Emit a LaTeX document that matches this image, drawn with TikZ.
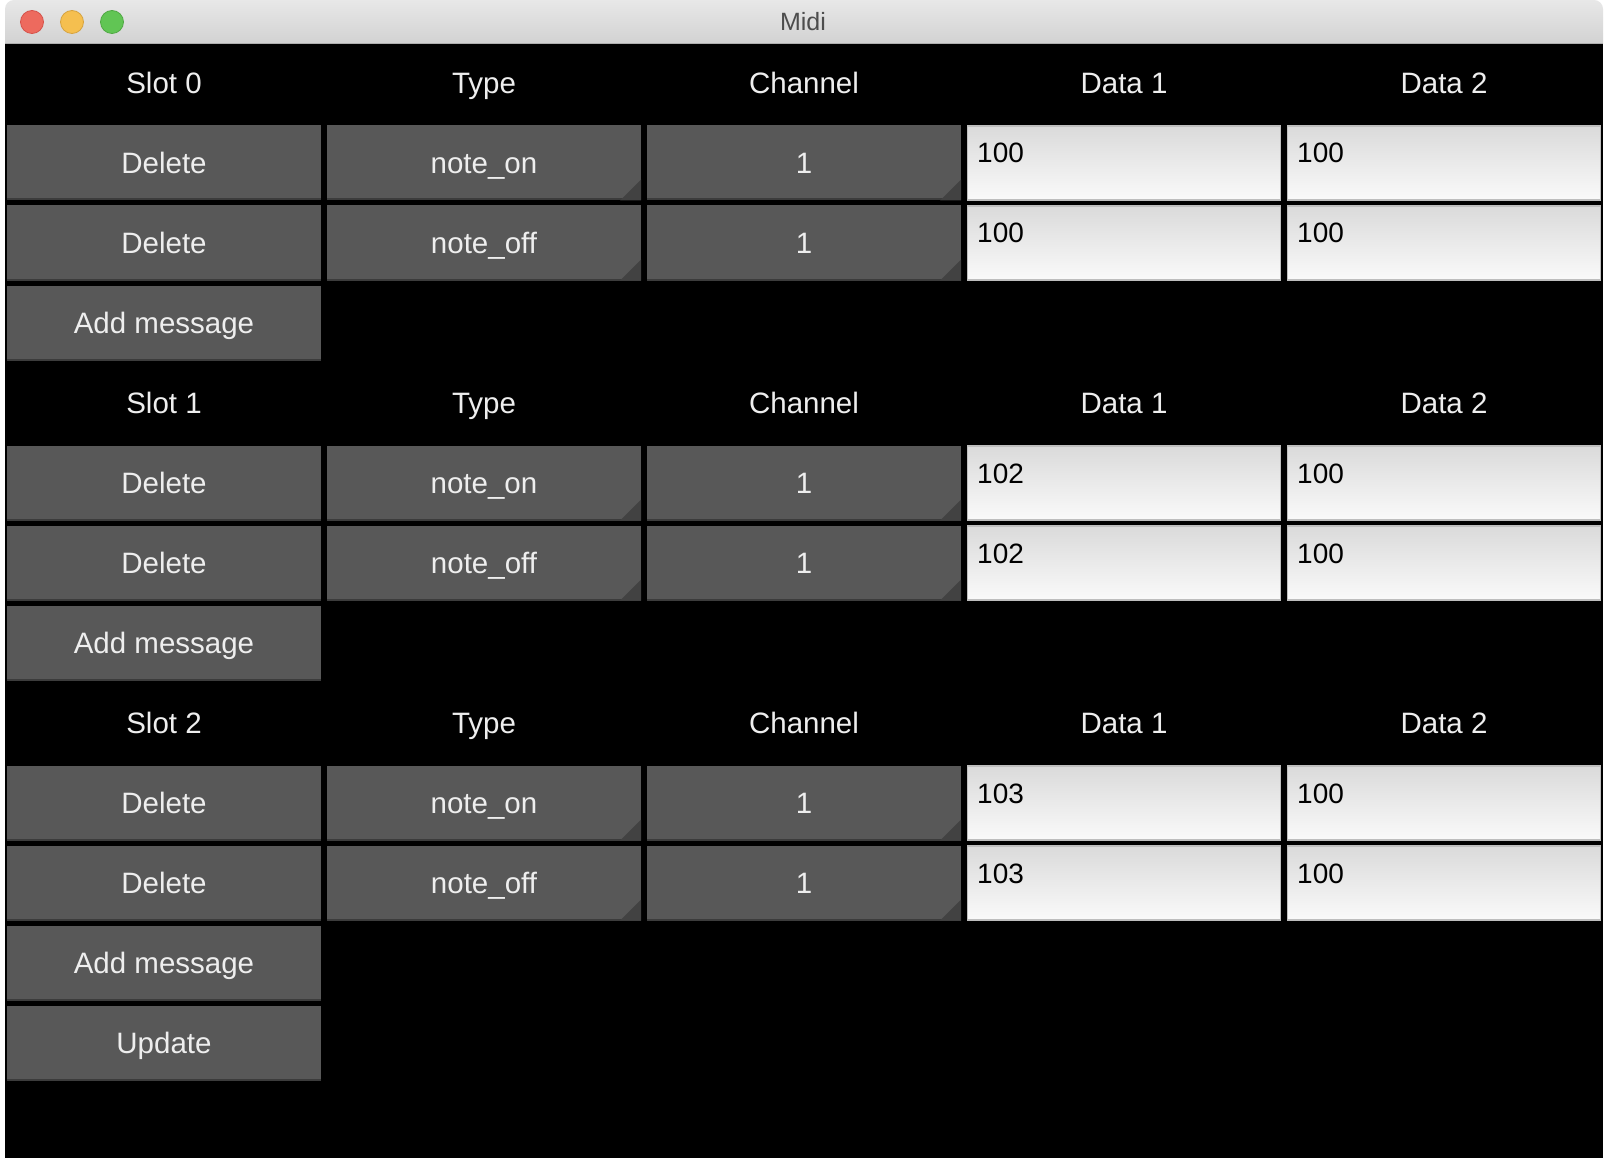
\documentclass[tikz,border=0pt]{standalone}
\usepackage{fontspec}
\setmainfont{Liberation Sans}
\definecolor{btngray}{RGB}{88,88,88}
\definecolor{btnedge}{RGB}{60,60,60}
\definecolor{trigray}{RGB}{66,66,66}
\definecolor{btntext}{RGB}{238,238,238}
\definecolor{inTop}{RGB}{218,218,218}
\definecolor{inBot}{RGB}{250,250,250}
\definecolor{inBorder}{RGB}{190,190,190}
\definecolor{tbTop}{RGB}{232,232,232}
\definecolor{tbBot}{RGB}{210,210,210}
\definecolor{tbLine}{RGB}{176,176,176}
\definecolor{titletext}{RGB}{77,77,77}
\definecolor{lred}{RGB}{237,106,94}
\definecolor{lredE}{RGB}{213,82,74}
\definecolor{lyel}{RGB}{245,191,79}
\definecolor{lyelE}{RGB}{214,163,64}
\definecolor{lgrn}{RGB}{97,197,84}
\definecolor{lgrnE}{RGB}{80,168,68}
\tikzset{
  x=1pt, y=-1pt,
  uifont/.style={font=\fontsize{29.5pt}{30pt}\selectfont, text height=21pt, text depth=0pt},
  hdr/.style={uifont, text=btntext, inner sep=0pt},
  btn/.style={uifont, fill=btngray, text=btntext, minimum width=314pt, minimum height=75pt, inner sep=0pt,
    path picture={\fill[btnedge] (path picture bounding box.south west) rectangle ([yshift=2pt]path picture bounding box.south east);}},
  spin/.style={btn, path picture={
    \fill[btnedge] (path picture bounding box.south west) rectangle ([yshift=2pt]path picture bounding box.south east);
    \fill[trigray] (path picture bounding box.south east) -- ++(-21pt,0pt) -- ++(21pt,21pt) -- cycle;}},
  inp/.style={top color=inTop, bottom color=inBot, draw=inBorder, line width=1.2pt, minimum width=313pt, minimum height=74pt, inner sep=0pt},
  inptext/.style={font=\fontsize{28pt}{29pt}\selectfont, text=black, anchor=base west, inner sep=0pt},
  light/.style={circle, minimum size=23pt, inner sep=0pt, line width=0.8pt},
}
\begin{document}
\begin{tikzpicture}
\useasboundingbox (0,0) rectangle (1608,1158);
\fill[white] (0,0) rectangle (1608,1158);
\fill[black] (5,44) rectangle (1603,1158);
% title bar
\shade[top color=tbTop, bottom color=tbBot] (5,44) [rounded corners=9pt] -- (5,0) -- (1603,0) [sharp corners] -- (1603,44) -- cycle;
\draw[tbLine, line width=1.5pt] (5,43.5) -- (1603,43.5);
\node[light, fill=lred, draw=lredE] (close) at (32,22) {};
\node[light, fill=lyel, draw=lyelE] (mini) at (72,22) {};
\node[light, fill=lgrn, draw=lgrnE] (zoom) at (112,22) {};
\node[font=\fontsize{25pt}{26pt}\selectfont, text=titletext, inner sep=0pt, text height=18pt, text depth=0pt] (title) at (803,22) {Midi};
% sections
\foreach \s/\a in {0/100,1/102,2/103} {
  \pgfmathsetmacro\hy{83+320*\s}
  \node[hdr] (slot\s) at (164,\hy) {Slot \s};
  \node[hdr] (typeh\s) at (484,\hy) {Type};
  \node[hdr] (chanh\s) at (804,\hy) {Channel};
  \node[hdr] (dah\s) at (1124,\hy) {Data 1};
  \node[hdr] (dbh\s) at (1444,\hy) {Data 2};
  \foreach \r/\t in {0/note\_on,1/note\_off} {
    \pgfmathsetmacro\cy{163+320*\s+80*\r}
    \pgfmathsetmacro\ty{162.5+320*\s+80*\r-37.5+38}
    \node[btn] (del\s\r) at (164,\cy) {Delete};
    \node[spin] (type\s\r) at (484,\cy) {\t};
    \node[spin] (chan\s\r) at (804,\cy) {1};
    \node[inp] (da\s\r) at (1124,\cy) {};
    \node[inp] (db\s\r) at (1444,\cy) {};
    \node[inptext] (dat\s\r) at (977,\ty) {\a};
    \node[inptext] (dbt\s\r) at (1297,\ty) {100};
  }
  \pgfmathsetmacro\my{163+320*\s+160}
  \node[btn] (add\s) at (164,\my) {Add message};
}
\node[btn] (update) at (164,1043) {Update};
\end{tikzpicture}
\end{document}
